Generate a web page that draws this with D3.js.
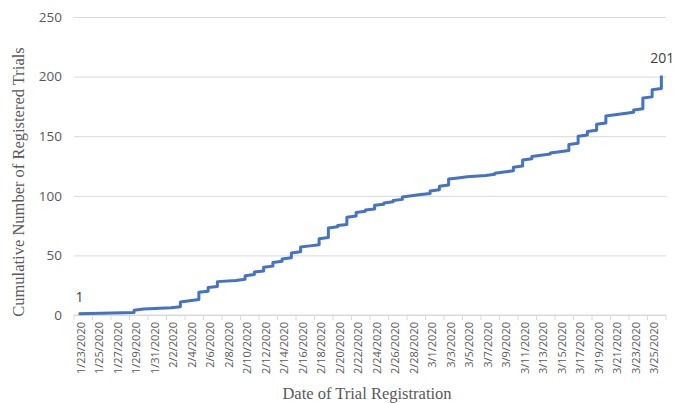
<!DOCTYPE html>
<html>
<head>
<meta charset="utf-8">
<script src="https://cdn.jsdelivr.net/npm/d3@7"></script>
<style>
  body { margin: 0; background: #fff; }
</style>
</head>
<body>
<script>
const dates = [
  "1/23/2020","1/24/2020","1/25/2020","1/26/2020","1/27/2020","1/28/2020","1/29/2020","1/30/2020","1/31/2020",
  "2/1/2020","2/2/2020","2/3/2020","2/4/2020","2/5/2020","2/6/2020","2/7/2020","2/8/2020","2/9/2020","2/10/2020",
  "2/11/2020","2/12/2020","2/13/2020","2/14/2020","2/15/2020","2/16/2020","2/17/2020","2/18/2020","2/19/2020",
  "2/20/2020","2/21/2020","2/22/2020","2/23/2020","2/24/2020","2/25/2020","2/26/2020","2/27/2020","2/28/2020",
  "2/29/2020","3/1/2020","3/2/2020","3/3/2020","3/4/2020","3/5/2020","3/6/2020","3/7/2020","3/8/2020","3/9/2020",
  "3/10/2020","3/11/2020","3/12/2020","3/13/2020","3/14/2020","3/15/2020","3/16/2020","3/17/2020","3/18/2020",
  "3/19/2020","3/20/2020","3/21/2020","3/22/2020","3/23/2020","3/24/2020","3/25/2020","3/26/2020"
]
// cumulative count at the end of each day
const cumulative = [
  1,1,1,1,1,1,4,5,5,
  5,6,11,12,19,23,28,28,29,33,
  36,40,44,47,52,57,58,64,73,
  75,82,86,88,92,94,96,99,100,
  101,104,108,114,115,116,116,117,119,120,
  124,130,133,134,136,137,143,150,154,
  160,167,168,169,172,182,189,201
]
const yTicks = [0, 50, 100, 150, 200, 250]
const tickLabelDates = dates.filter((d, i) => i % 2 === 0)

const width = 675
const height = 403
const plotLeft = 74, plotRight = 666, plotTop = 17, plotBottom = 315

const svg = d3.select("body").append("svg")
    .attr("width", width)
    .attr("height", height)
    .style("font-family", "'Open Sans', sans-serif")

const x = d3.scaleBand().domain(dates).range([plotLeft, plotRight]).padding(0)
const y = d3.scaleLinear().domain([0, 250]).range([plotBottom, plotTop])
const cx = d => x(d) + x.bandwidth() / 2

// gridlines + y labels
const yAxis = svg.append("g")
    .attr("transform", `translate(${plotLeft},0)`)
    .call(d3.axisLeft(y).tickValues(yTicks).tickSize(-(plotRight - plotLeft)).tickPadding(12))
yAxis.select(".domain").remove()
yAxis.selectAll(".tick line").attr("stroke", "#d9d9d9").attr("stroke-width", 1)
yAxis.selectAll(".tick text")
    .attr("fill", "#595959")
    .style("font-size", "13.5px")
    .style("font-family", "'Open Sans', sans-serif")

// x axis line
svg.append("line")
    .attr("x1", plotLeft).attr("x2", plotRight)
    .attr("y1", y(0)).attr("y2", y(0))
    .attr("stroke", "#d9d9d9")

// tick marks at category boundaries, every 2 days
const tickEdges = tickLabelDates.map(d => x(d)).concat([plotRight])
svg.selectAll(".xtick")
    .data(tickEdges)
    .enter()
    .append("line")
    .attr("x1", v => v).attr("x2", v => v)
    .attr("y1", y(0)).attr("y2", y(0) + 5)
    .attr("stroke", "#d9d9d9")

svg.selectAll(".xlabel")
    .data(tickLabelDates)
    .enter()
    .append("text")
    .attr("transform", d => `translate(${cx(d) + 1.5},${y(0) + 7}) rotate(-90)`)
    .attr("text-anchor", "end")
    .attr("dominant-baseline", "central")
    .attr("fill", "#595959")
    .style("font-size", "11px")
    .text(d => d)

// each registration is a point: vertical run within a day, slope between days
const pts = []
cumulative.forEach((v, i) => {
    const prev = i === 0 ? 0 : cumulative[i - 1]
    if (i > 0 && v === prev) return
    if (v - prev > 1 && i > 0) pts.push([dates[i], prev + 1])
    pts.push([dates[i], v])
})

svg.append("path")
    .datum(pts)
    .attr("fill", "none")
    .attr("stroke", "#4472C4")
    .attr("stroke-width", 3)
    .attr("stroke-linejoin", "round")
    .attr("d", d3.line().x(p => cx(p[0])).y(p => y(p[1])))

// data labels on first and last points
const firstDate = dates[0], lastDate = dates[dates.length - 1]
svg.append("text")
    .attr("x", cx(firstDate) + 1).attr("y", y(cumulative[0]) - 12)
    .attr("text-anchor", "middle")
    .attr("fill", "#404040")
    .style("font-size", "14px")
    .text(cumulative[0])
svg.append("text")
    .attr("x", cx(lastDate) + 1).attr("y", y(cumulative[cumulative.length - 1]) - 12)
    .attr("text-anchor", "middle")
    .attr("fill", "#404040")
    .style("font-size", "14px")
    .text(cumulative[cumulative.length - 1])

// axis titles
svg.append("text")
    .attr("transform", `translate(24,${(plotTop + plotBottom) / 2 + 16}) rotate(-90)`)
    .attr("text-anchor", "middle")
    .attr("fill", "#595959")
    .style("font-family", "'Liberation Serif', 'Times New Roman', serif")
    .style("font-size", "16.5px")
    .text("Cumulative Number of Registered Trials")

svg.append("text")
    .attr("x", (plotLeft + plotRight) / 2 - 3)
    .attr("y", 399)
    .attr("text-anchor", "middle")
    .attr("fill", "#595959")
    .style("font-family", "'Liberation Serif', 'Times New Roman', serif")
    .style("font-size", "16.5px")
    .text("Date of Trial Registration")
</script>
</body>
</html>
